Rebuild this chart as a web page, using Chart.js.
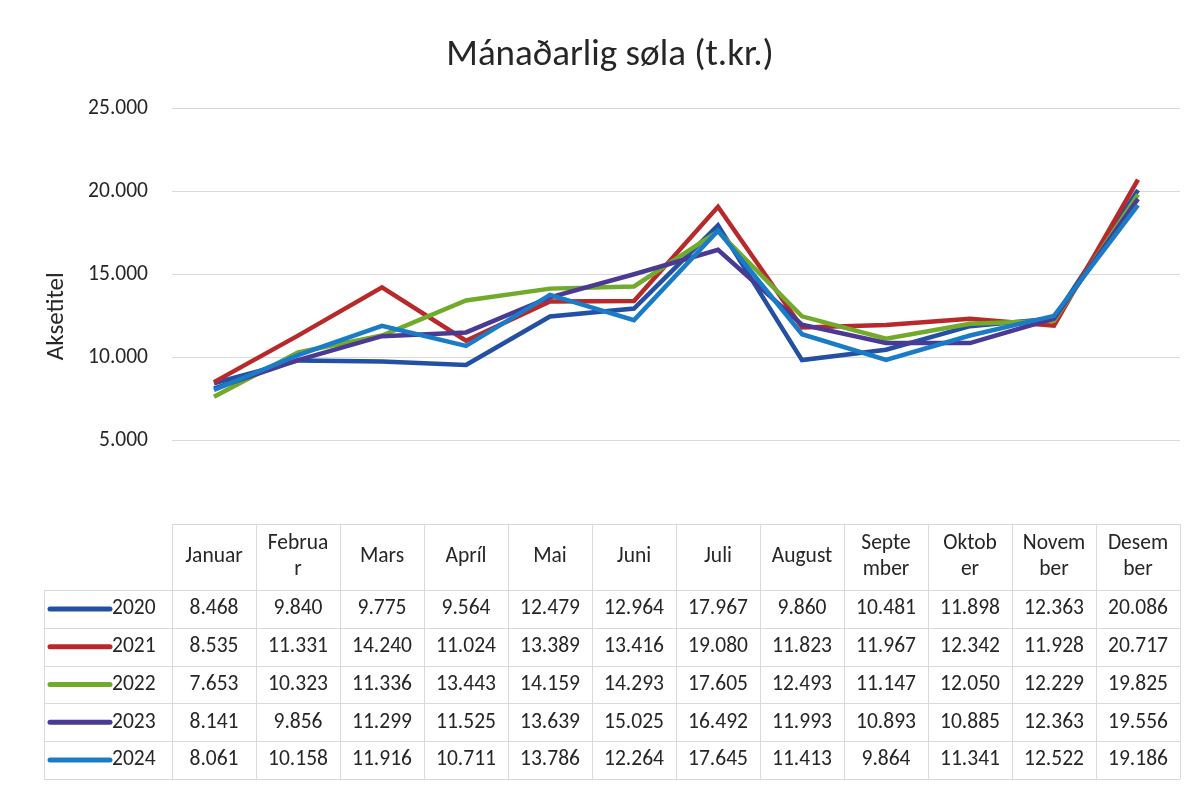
<!DOCTYPE html>
<html>
<head>
<meta charset="utf-8">
<script src="https://cdn.jsdelivr.net/npm/chart.js@4.4.1/dist/chart.umd.min.js"></script>
<style>
    html, body { margin: 0; padding: 0; background: #fff; }
    #wrap { width: 1200px; height: 786px; position: relative; }
</style>
</head>
<body>
<div id="wrap"><canvas id="chart" width="1200" height="786"></canvas></div>
<script>
var months = ['Januar', 'Februar', 'Mars', 'Apríl', 'Mai', 'Juni', 'Juli', 'August',
              'September', 'Oktober', 'November', 'Desember'];
// header cells as they wrap in the table
var monthLines = [['Januar'], ['Februa', 'r'], ['Mars'], ['Apríl'], ['Mai'], ['Juni'], ['Juli'],
                  ['August'], ['Septe', 'mber'], ['Oktob', 'er'], ['Novem', 'ber'], ['Desem', 'ber']];

var years = ['2020', '2021', '2022', '2023', '2024'];
var colors = ['#2350a3', '#b8292b', '#72aa2c', '#4a3a94', '#1a7cc6'];

var sales2020 = [8468, 9840, 9775, 9564, 12479, 12964, 17967, 9860, 10481, 11898, 12363, 20086];
var sales2021 = [8535, 11331, 14240, 11024, 13389, 13416, 19080, 11823, 11967, 12342, 11928, 20717];
var sales2022 = [7653, 10323, 11336, 13443, 14159, 14293, 17605, 12493, 11147, 12050, 12229, 19825];
var sales2023 = [8141, 9856, 11299, 11525, 13639, 15025, 16492, 11993, 10893, 10885, 12363, 19556];
var sales2024 = [8061, 10158, 11916, 10711, 13786, 12264, 17645, 11413, 9864, 11341, 12522, 19186];

var yTicks = [0, 5000, 10000, 15000, 20000, 25000];

var FONT = "Carlito, Lato, sans-serif";
var TEXT = '#262626';
var GRID = '#d9d9d9';


function fmt(v) {
    var s = String(Math.round(v));
    return s.replace(/\B(?=(\d{3})+(?!\d))/g, '.');
}

var allSeries = [sales2020, sales2021, sales2022, sales2023, sales2024];

function makeDatasets() {
    var ds = [];
    for (var i = 0; i < years.length; i++) {
        ds.push({
            label: years[i],
            data: allSeries[i],
            borderColor: colors[i],
            backgroundColor: colors[i],
            borderWidth: 4.5,
            pointRadius: 0,
            tension: 0,
            // later years on top, like the spreadsheet
            order: years.length - 1 - i
        });
    }
    return ds;
}

// draws the data table under the plot, columns taken from the x scale
var dataTable = {
    id: 'dataTable',
    afterDraw: function(chart) {
        var ctx = chart.ctx;
        var x = chart.scales.x;
        var top = chart.chartArea.bottom;
        var step = x.getPixelForValue(1) - x.getPixelForValue(0);
        var left = x.getPixelForValue(0) - step / 2;
        var right = x.getPixelForValue(months.length - 1) + step / 2;
        var headH = 66, rowH = 37.8;
        var keyLeft = 48;
        var bottom = top + headH + rowH * years.length;

        ctx.save();
        ctx.strokeStyle = GRID;
        ctx.lineWidth = 1;
        ctx.beginPath();
        ctx.moveTo(left, top + 0.5);
        ctx.lineTo(right, top + 0.5);
        for (var r = 0; r <= years.length; r++) {
            var yy = Math.round(top + headH + r * rowH) + 0.5;
            ctx.moveTo(keyLeft - 4, yy);
            ctx.lineTo(right, yy);
        }
        for (var c = 0; c <= months.length; c++) {
            var xx = Math.round(left + c * step) + 0.5;
            ctx.moveTo(xx, top);
            ctx.lineTo(xx, bottom);
        }
        ctx.moveTo(keyLeft - 4 + 0.5, top + headH);
        ctx.lineTo(keyLeft - 4 + 0.5, bottom);
        ctx.stroke();

        ctx.fillStyle = TEXT;
        ctx.textAlign = 'center';
        ctx.textBaseline = 'middle';
        ctx.font = '21.5px ' + FONT;
        for (var m = 0; m < months.length; m++) {
            var cx = x.getPixelForValue(m);
            var lines = monthLines[m];
            var lh = 26;
            var y0 = top + headH / 2 - (lines.length - 1) * lh / 2;
            for (var k = 0; k < lines.length; k++) {
                ctx.fillText(lines[k], cx, y0 + k * lh);
            }
        }

        for (var i = 0; i < years.length; i++) {
            var cy = top + headH + rowH * i + rowH / 2;
            ctx.strokeStyle = colors[i];
            ctx.lineWidth = 5;
            ctx.lineCap = 'round';
            ctx.beginPath();
            ctx.moveTo(keyLeft + 2, cy);
            ctx.lineTo(110, cy);
            ctx.stroke();
            ctx.fillStyle = TEXT;
            ctx.textAlign = 'left';
            ctx.fillText(years[i], 112, cy);
            ctx.textAlign = 'center';
            for (var j = 0; j < months.length; j++) {
                ctx.fillText(fmt(allSeries[i][j]), x.getPixelForValue(j), cy);
            }
        }
        ctx.restore();
    }
};

function makeChart(id) {
    return new Chart(document.getElementById(id).getContext('2d'), {
        type: 'line',
        data: { labels: months, datasets: makeDatasets() },
        plugins: [dataTable],
        options: {
            responsive: false,
            animation: false,
            layout: { padding: { top: 0, right: 20, bottom: 262, left: 40 } },
            plugins: {
                legend: { display: false },
                tooltip: { enabled: false },
                title: {
                    display: true,
                    text: 'Mánaðarlig søla (t.kr.)',
                    color: TEXT,
                    font: { family: FONT, size: 37, weight: 'normal' },
                    padding: { top: 34, bottom: 30 }
                }
            },
            scales: {
                x: {
                    display: false,
                    offset: true
                },
                y: {
                    min: 0,
                    max: 25000,
                    afterBuildTicks: function(scale) {
                        scale.ticks = yTicks.map(function(v) { return { value: v }; });
                    },
                    afterFit: function(scale) { scale.width = 132; },
                    border: { display: false },
                    grid: {
                        color: function(c) { return c.tick.value === 0 ? 'rgba(0,0,0,0)' : GRID; },
                        drawTicks: false
                    },
                    ticks: {
                        padding: 24,
                        color: TEXT,
                        font: { family: FONT, size: 21.5 },
                        callback: function(v) { return v === 0 ? '' : fmt(v); }
                    },
                    title: {
                        display: true,
                        text: 'Aksetitel',
                        color: TEXT,
                        font: { family: FONT, size: 25 },
                        padding: { top: 2, bottom: 0 }
                    }
                }
            }
        }
    });
}

var chart = makeChart('chart');
</script>
</body>
</html>
